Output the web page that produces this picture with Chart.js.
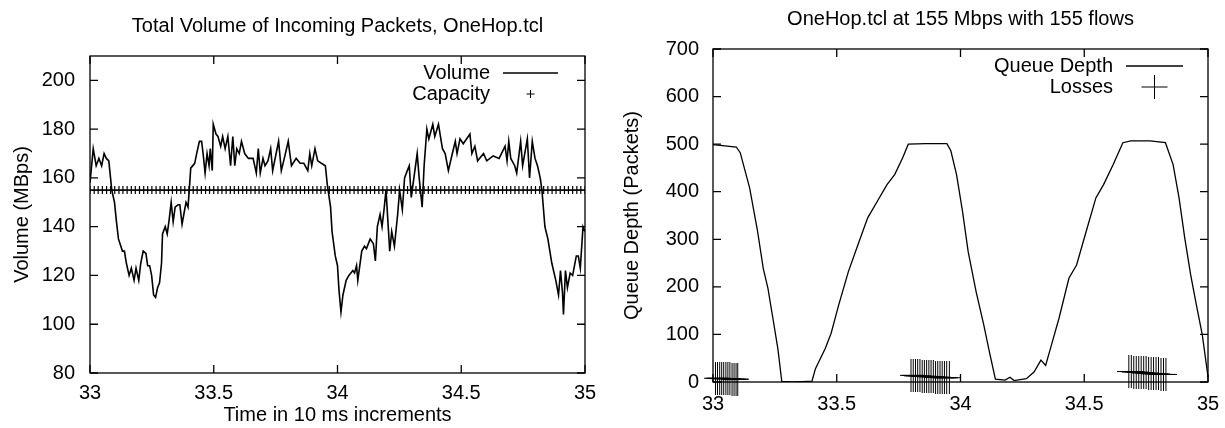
<!DOCTYPE html>
<html>
<head>
<meta charset="utf-8">
<script src="https://cdn.jsdelivr.net/npm/chart.js@4.4.0/dist/chart.umd.min.js"></script>
<style>
html, body { margin: 0; padding: 0; background: #fff; overflow: hidden; }
#wrap { position: relative; width: 1225px; height: 428px; }
#vol { position: absolute; left: 0; top: 0; }
#queue { position: absolute; left: 612px; top: 0; }
</style>
</head>
<body>
<div id="wrap">
  <canvas id="vol" width="612" height="428"></canvas>
  <canvas id="queue" width="613" height="428"></canvas>
</div>
<script>
// tick labels
var timeTicks = [33, 33.5, 34, 34.5, 35];
var volumeTicks = [80, 100, 120, 140, 160, 180, 200];
var queueTicks = [0, 100, 200, 300, 400, 500, 600, 700];

// left: total volume of incoming packets
var volTime = [33.000,33.013,33.025,33.036,33.047,33.057,33.066,33.076,33.088,33.099,
  33.107,33.115,33.131,33.139,33.147,33.158,33.167,33.178,33.186,33.197,
  33.205,33.215,33.226,33.233,33.241,33.249,33.257,33.265,33.273,33.281,
  33.289,33.293,33.304,33.312,33.320,33.328,33.336,33.344,33.356,33.363,
  33.372,33.379,33.388,33.396,33.401,33.407,33.423,33.431,33.442,33.451,
  33.457,33.465,33.473,33.481,33.486,33.494,33.498,33.509,33.517,33.528,
  33.536,33.546,33.557,33.568,33.577,33.585,33.593,33.603,33.612,33.625,
  33.640,33.659,33.672,33.680,33.688,33.699,33.707,33.719,33.730,33.738,
  33.762,33.773,33.785,33.801,33.814,33.833,33.849,33.864,33.880,33.888,
  33.896,33.909,33.920,33.935,33.951,33.959,33.972,33.978,33.991,34.000,
  34.006,34.014,34.022,34.035,34.046,34.062,34.069,34.077,34.082,34.098,
  34.109,34.117,34.132,34.145,34.153,34.161,34.172,34.180,34.188,34.196,
  34.211,34.219,34.230,34.243,34.251,34.262,34.271,34.282,34.290,34.298,
  34.322,34.330,34.342,34.350,34.361,34.369,34.385,34.393,34.408,34.424,
  34.435,34.448,34.464,34.476,34.483,34.495,34.508,34.535,34.543,34.555,
  34.566,34.590,34.603,34.629,34.653,34.677,34.685,34.692,34.700,34.716,
  34.724,34.740,34.748,34.767,34.776,34.787,34.798,34.808,34.819,34.826,
  34.838,34.850,34.866,34.882,34.893,34.901,34.909,34.913,34.921,34.929,
  34.940,34.950,34.965,34.973,34.981,34.992,35.000];
var volMbps = [158,172,165,168,165,170,168,167,155,150,
  142,135,130,130,125,120,123,118,123,118,
  125,130,129,124,124,120,112,111,115,117,
  125,137,140,137,143,150,142,148,149,149,
  141,145,150,148,155,164,166,170,175,175,
  170,162,170,165,172,163,182,178,177,173,
  177,172,177,165,177,165,172,170,175,170,
  168,168,162,172,162,168,165,167,172,163,
  175,163,168,175,165,168,166,166,163,170,
  165,172,167,166,165,157,148,138,128,124,
  114,105,112,118,120,122,121,124,118,130,
  132,131,135,133,126,140,145,140,147,155,
  130,138,132,145,155,147,160,163,165,152,
  170,160,148,165,180,176,182,177,182,172,
  170,163,170,175,170,176,174,178,170,173,
  167,170,167,169,168,173,167,175,168,165,
  162,175,165,176,160,175,168,165,160,155,
  140,135,125,118,112,122,113,104,122,115,
  121,120,128,128,123,140,138];

var capacity = 155;
var capTime = [
  33.000,33.017,33.033,33.050,33.067,33.083,33.100,33.117,33.133,33.150,33.167,33.183,
  33.200,33.217,33.233,33.250,33.267,33.283,33.300,33.317,33.333,33.350,33.367,33.383,
  33.400,33.417,33.433,33.450,33.467,33.483,33.500,33.517,33.533,33.550,33.567,33.583,
  33.600,33.617,33.633,33.650,33.667,33.683,33.700,33.717,33.733,33.750,33.767,33.783,
  33.800,33.817,33.833,33.850,33.867,33.883,33.900,33.917,33.933,33.950,33.967,33.983,
  34.000,34.017,34.033,34.050,34.067,34.083,34.100,34.117,34.133,34.150,34.167,34.183,
  34.200,34.217,34.233,34.250,34.267,34.283,34.300,34.317,34.333,34.350,34.367,34.383,
  34.400,34.417,34.433,34.450,34.467,34.483,34.500,34.517,34.533,34.550,34.567,34.583,
  34.600,34.617,34.633,34.650,34.667,34.683,34.700,34.717,34.733,34.750,34.767,34.783,
  34.800,34.817,34.833,34.850,34.867,34.883,34.900,34.917,34.933,34.950,34.967,34.983,
  35.000];

// right: queue depth and losses
var queueTime = [33.000,33.094,33.110,33.148,33.180,33.203,33.222,33.242,33.262,33.278,
  33.320,33.360,33.400,33.414,33.453,33.477,33.508,33.547,33.586,33.625,
  33.664,33.703,33.734,33.766,33.789,33.860,33.945,33.961,33.984,34.008,
  34.031,34.063,34.094,34.117,34.141,34.180,34.200,34.216,34.266,34.297,
  34.325,34.344,34.367,34.398,34.438,34.469,34.508,34.547,34.578,34.617,
  34.656,34.688,34.766,34.828,34.859,34.883,34.906,34.930,34.953,34.977,35.000];
var queueDepth = [499,494,482,408,317,239,197,134,70,1,
  0,1,2,28,70,102,162,232,289,345,
  380,415,436,471,500,501,501,486,436,359,
  274,190,120,63,6,4,10,3,7,21,
  46,35,77,134,218,246,317,387,415,457,
  503,507,507,503,457,387,303,225,162,99,11];

var lossTime = [33.010,33.018,33.027,33.035,33.043,33.052,33.060,33.068,33.077,33.085,33.093,33.100,
  33.800,33.809,33.818,33.827,33.836,33.845,33.854,33.863,33.872,33.881,33.890,33.899,33.908,33.917,33.926,33.935,33.944,33.955,
  34.680,34.690,34.700,34.710,34.720,34.730,34.740,34.750,34.760,34.770,34.780,34.790,34.800,34.810,34.820,34.830];
var lossDepth = [8,8,8,7,7,7,7,7,6,6,6,6,
  14,14,13,13,13,12,12,12,11,11,11,10,10,10,9,9,9,9,
  22,22,21,21,20,20,19,19,18,18,17,17,17,16,16,16];

var FONT = '"Liberation Sans", Arial, Helvetica, sans-serif';
var TXT = 20;

function pts(xs, ys) {
  return xs.map(function (x, i) { return { x: x, y: ys[i] }; });
}

// tall thin plus used for losses
function plusMark(hw, hh) {
  var c = document.createElement('canvas');
  c.width = hw * 2 + 1;
  c.height = hh * 2 + 1;
  var g = c.getContext('2d');
  g.strokeStyle = '#000';
  g.lineWidth = 1;
  g.beginPath();
  g.moveTo(0, hh + 0.5); g.lineTo(c.width, hh + 0.5);
  g.moveTo(hw + 0.5, 0); g.lineTo(hw + 0.5, c.height);
  g.stroke();
  return c;
}

// gnuplot style frame with inward ticks on all four sides
var frame = {
  id: 'frame',
  afterDraw: function (chart) {
    var ctx = chart.ctx, a = chart.chartArea;
    var xs = chart.scales.x, ys = chart.scales.y;
    ctx.save();
    ctx.strokeStyle = '#000';
    ctx.lineWidth = 1.3;
    ctx.strokeRect(a.left, a.top, a.right - a.left, a.bottom - a.top);
    ctx.beginPath();
    xs.ticks.forEach(function (t) {
      var px = xs.getPixelForValue(t.value);
      ctx.moveTo(px, a.bottom); ctx.lineTo(px, a.bottom - 8);
      ctx.moveTo(px, a.top); ctx.lineTo(px, a.top + 8);
    });
    ys.ticks.forEach(function (t) {
      var py = ys.getPixelForValue(t.value);
      ctx.moveTo(a.left, py); ctx.lineTo(a.left + 8, py);
      ctx.moveTo(a.right, py); ctx.lineTo(a.right - 8, py);
    });
    ctx.stroke();
    ctx.restore();
  }
};

// key in the top right corner, text then sample
var key = {
  id: 'key',
  afterDraw: function (chart, args, opts) {
    var ctx = chart.ctx, a = chart.chartArea;
    ctx.save();
    ctx.font = TXT + 'px ' + FONT;
    ctx.fillStyle = '#000';
    ctx.strokeStyle = '#000';
    ctx.textAlign = 'right';
    ctx.textBaseline = 'middle';
    chart.data.datasets.forEach(function (ds, i) {
      var y = a.top + opts.top + i * opts.gap;
      ctx.fillText(ds.label, a.right - opts.textRight, y);
      var sx = a.right - opts.sampleRight;
      ctx.beginPath();
      if (ds.showLine === false) {
        var c = sx - opts.sampleLen / 2;
        ctx.lineWidth = 1;
        ctx.moveTo(c - opts.plus[0], y); ctx.lineTo(c + opts.plus[0], y);
        ctx.moveTo(c, y - opts.plus[1]); ctx.lineTo(c, y + opts.plus[1]);
      } else {
        ctx.lineWidth = 1.3;
        ctx.moveTo(sx - opts.sampleLen, y); ctx.lineTo(sx, y);
      }
      ctx.stroke();
    });
    ctx.restore();
  }
};

function txtFont() { return { family: FONT, size: TXT }; }
function plain(v) { return String(v); }

new Chart(document.getElementById('vol'), {
  type: 'scatter',
  data: {
    datasets: [
      {
        label: 'Volume',
        data: pts(volTime, volMbps),
        showLine: true,
        borderColor: '#000',
        borderWidth: 1.6,
        pointRadius: 0,
        tension: 0
      },
      {
        label: 'Capacity',
        data: capTime.map(function (t) { return { x: t, y: capacity }; }),
        showLine: false,
        pointStyle: 'cross',
        pointRadius: 4,
        borderColor: '#000',
        borderWidth: 1.2
      }
    ]
  },
  options: {
    responsive: false,
    animation: false,
    layout: { padding: { left: 0, right: 27, top: 0, bottom: 0 } },
    plugins: {
      legend: { display: false },
      tooltip: { enabled: false },
      title: {
        display: true,
        fullSize: false,
        text: 'Total Volume of Incoming Packets, OneHop.tcl',
        color: '#000',
        font: { family: FONT, size: TXT, weight: 'normal' },
        padding: { top: 14, bottom: 18 }
      },
      key: { top: 17, gap: 21, textRight: 95, sampleRight: 27, sampleLen: 55, plus: [4, 4] }
    },
    scales: {
      x: {
        type: 'linear', min: 33, max: 35,
        afterBuildTicks: function (s) { s.ticks = timeTicks.map(function (v) { return { value: v }; }); },
        afterFit: function (s) { s.height = 55; },
        grid: { display: false, drawTicks: false },
        border: { display: false },
        ticks: { color: '#000', font: txtFont(), padding: 8, maxRotation: 0, autoSkip: false, callback: plain },
        title: { display: true, text: 'Time in 10 ms increments', color: '#000', font: txtFont(), padding: { top: 0, bottom: 1 } }
      },
      y: {
        type: 'linear', min: 80, max: 210,
        afterBuildTicks: function (s) { s.ticks = volumeTicks.map(function (v) { return { value: v }; }); },
        afterFit: function (s) { s.width = 90; },
        grid: { display: false, drawTicks: false },
        border: { display: false },
        ticks: { color: '#000', font: txtFont(), padding: 15, callback: plain },
        title: { display: true, text: 'Volume (MBps)', color: '#000', font: txtFont(), padding: { top: 10, bottom: 0 } }
      }
    }
  },
  plugins: [frame, key]
});

new Chart(document.getElementById('queue'), {
  type: 'scatter',
  data: {
    datasets: [
      {
        label: 'Queue Depth',
        data: pts(queueTime, queueDepth),
        showLine: true,
        borderColor: '#000',
        borderWidth: 1.3,
        pointRadius: 0,
        tension: 0
      },
      {
        label: 'Losses',
        data: pts(lossTime, lossDepth),
        showLine: false,
        pointStyle: plusMark(11, 16),
        pointRadius: 16,
        borderColor: '#000',
        clip: false
      }
    ]
  },
  options: {
    responsive: false,
    animation: false,
    layout: { padding: { left: 0, right: 15, top: 0, bottom: 0 } },
    plugins: {
      legend: { display: false },
      tooltip: { enabled: false },
      title: {
        display: true,
        fullSize: false,
        text: 'OneHop.tcl at 155 Mbps with 155 flows',
        color: '#000',
        font: { family: FONT, size: TXT, weight: 'normal' },
        padding: { top: 7, bottom: 18 }
      },
      key: { top: 17, gap: 21, textRight: 95, sampleRight: 25, sampleLen: 57, plus: [13, 12] }
    },
    scales: {
      x: {
        type: 'linear', min: 33, max: 35,
        afterBuildTicks: function (s) { s.ticks = timeTicks.map(function (v) { return { value: v }; }); },
        afterFit: function (s) { s.height = 46; s.paddingRight = 12; },
        grid: { display: false, drawTicks: false },
        border: { display: false },
        ticks: { color: '#000', font: txtFont(), padding: 10, maxRotation: 0, autoSkip: false, callback: plain }
      },
      y: {
        type: 'linear', min: 0, max: 700,
        afterBuildTicks: function (s) { s.ticks = queueTicks.map(function (v) { return { value: v }; }); },
        afterFit: function (s) { s.width = 101; },
        grid: { display: false, drawTicks: false },
        border: { display: false },
        ticks: { color: '#000', font: txtFont(), padding: 14, callback: plain },
        title: { display: true, text: 'Queue Depth (Packets)', color: '#000', font: txtFont(), padding: { top: 8, bottom: 0 } }
      }
    }
  },
  plugins: [frame, key]
});
</script>
</body>
</html>
